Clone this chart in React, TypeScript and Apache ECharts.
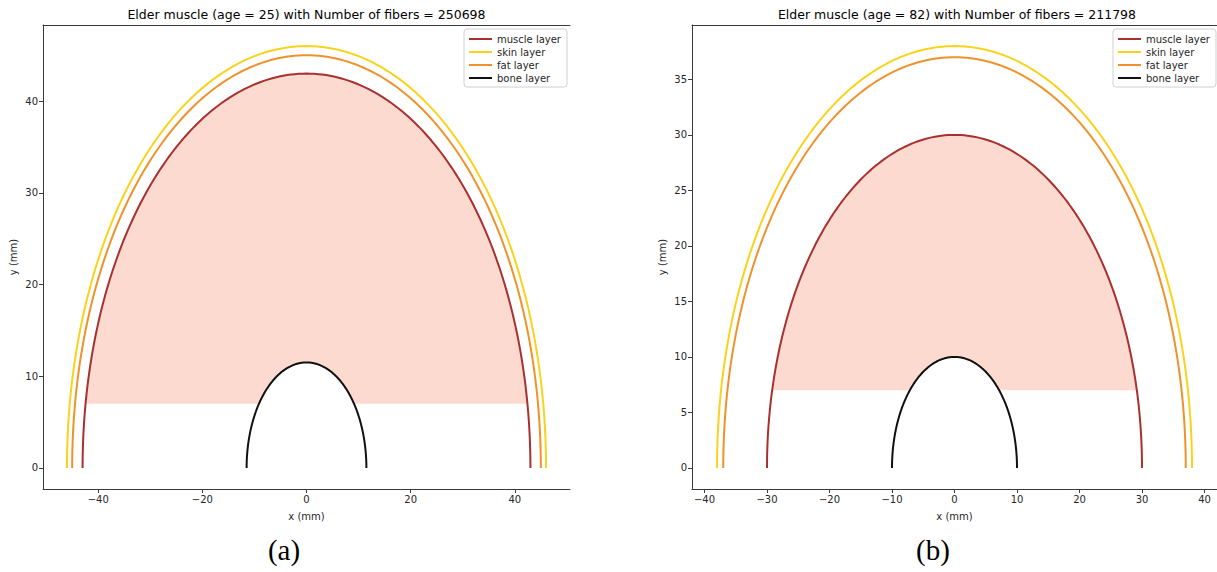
import React, { useEffect, useRef } from "react";
import * as echarts from "echarts";

// ---- data ----
const panelTags = ["(a)", "(b)"];
const ages = [25, 82];
const fiberCounts = [250698, 211798];
const layerNames = ["muscle layer", "skin layer", "fat layer", "bone layer"];
const layerColors = ["#a8312f", "#f9d31b", "#f0922c", "#111111"];
// semi-ellipse radii (mm) per panel, ordered like layerNames
const muscleRadius = [43, 30];
const skinRadius = [46, 38];
const fatRadius = [45, 37];
const boneRadius = [11.5, 10];
// lower edge of the muscle fiber cloud (mm)
const fiberFloor = [7, 7];
// axes
const xRanges = [[-50.6, 50.6], [-42, 42]];
const yRanges = [[-2.3, 48.3], [-1.9, 39.9]];
const xTicks = [[-40, -20, 0, 20, 40], [-40, -30, -20, -10, 0, 10, 20, 30, 40]];
const yTicks = [[0, 10, 20, 30, 40], [0, 5, 10, 15, 20, 25, 30, 35]];

const FONT = "DejaVu Sans";
const STEPS = 180;

function semi(r: number): number[][] {
  const pts: number[][] = [];
  for (let i = 0; i <= STEPS; i++) {
    const t = (Math.PI * i) / STEPS;
    pts.push([r * Math.cos(t), r * Math.sin(t)]);
  }
  return pts;
}

function fiberRegion(R: number, f: number, r: number): number[][] {
  const pts: number[][] = [];
  const t0 = Math.asin(f / R);
  for (let i = 0; i <= STEPS; i++) {
    const t = Math.PI - t0 - ((Math.PI - 2 * t0) * i) / STEPS;
    pts.push([R * Math.cos(t), R * Math.sin(t)]);
  }
  const t1 = Math.asin(Math.min(1, f / r));
  for (let i = 0; i <= STEPS; i++) {
    const t = t1 + ((Math.PI - 2 * t1) * i) / STEPS;
    pts.push([r * Math.cos(t), r * Math.sin(t)]);
  }
  return pts;
}

const grids = [
  { left: 43, top: 25, width: 527, height: 464 },
  { left: 692, top: 25, width: 530, height: 464 },
];
const legendLeft = [464, 1113];

export default function App() {
  const ref = useRef<HTMLDivElement>(null);
  useEffect(() => {
    if (!ref.current) return;
    const chart = echarts.init(ref.current, null, { renderer: "svg" });
    const axisColor = "#3a3a3a";
    const labelStyle = { color: "#262626", fontSize: 10, fontFamily: FONT };

    const xAxis: any[] = [];
    const yAxis: any[] = [];
    const series: any[] = [];
    const legend: any[] = [];
    const graphic: any[] = [];

    [0, 1].forEach((p) => {
      xAxis.push({
        type: "value",
        gridIndex: p,
        min: xRanges[p][0],
        max: xRanges[p][1],
        name: "x (mm)",
        nameLocation: "middle",
        nameGap: 22,
        nameTextStyle: { color: "#262626", fontSize: 10, fontFamily: FONT },
        axisLine: { onZero: false, lineStyle: { color: axisColor, width: 1 } },
        axisTick: { show: true, length: 4, customValues: xTicks[p], lineStyle: { color: axisColor } },
        axisLabel: { ...labelStyle, margin: 5, customValues: xTicks[p], formatter: (v: number) => (v < 0 ? "\u2212" + Math.abs(v) : String(v)) },
        splitLine: { show: false },
      });
      xAxis.push({
        type: "value",
        gridIndex: p,
        position: "top",
        min: xRanges[p][0],
        max: xRanges[p][1],
        axisLine: { onZero: false, lineStyle: { color: axisColor, width: 1 } },
        axisTick: { show: false },
        axisLabel: { show: false },
        splitLine: { show: false },
      });
      yAxis.push({
        type: "value",
        gridIndex: p,
        min: yRanges[p][0],
        max: yRanges[p][1],
        name: "y (mm)",
        nameLocation: "middle",
        nameGap: 25,
        nameTextStyle: { color: "#262626", fontSize: 10, fontFamily: FONT },
        axisLine: { onZero: false, lineStyle: { color: axisColor, width: 1 } },
        axisTick: { show: true, length: 4, customValues: yTicks[p], lineStyle: { color: axisColor } },
        axisLabel: { ...labelStyle, margin: 5, customValues: yTicks[p] },
        splitLine: { show: false },
      });

      const region = fiberRegion(muscleRadius[p], fiberFloor[p], boneRadius[p]);
      series.push({
        type: "custom",
        xAxisIndex: p * 2,
        yAxisIndex: p,
        silent: true,
        z: 1,
        data: [[0, fiberFloor[p]]],
        renderItem: (_params: any, api: any) => ({
          type: "polygon",
          shape: { points: region.map((pt) => api.coord(pt)) },
          style: { fill: "#fcdad0", stroke: "none" },
        }),
      });

      const radii = [muscleRadius[p], skinRadius[p], fatRadius[p], boneRadius[p]];
      radii.forEach((r, i) => {
        series.push({
          type: "line",
          name: layerNames[i],
          xAxisIndex: p * 2,
          yAxisIndex: p,
          data: semi(r),
          symbol: "none",
          z: 3,
          color: layerColors[i],
          itemStyle: { color: layerColors[i] },
          lineStyle: { color: layerColors[i], width: 2 },
        });
      });

      legend.push({
        data: layerNames,
        orient: "vertical",
        left: legendLeft[p],
        top: 29,
        icon: "rect",
        itemWidth: 23,
        itemHeight: 2,
        itemGap: 3,
        padding: [5, 6, 4, 5],
        backgroundColor: "#ffffff",
        borderColor: "#d0d0d0",
        borderWidth: 1,
        borderRadius: 3,
        selectedMode: false,
        textStyle: { color: "#262626", fontSize: 10, fontFamily: FONT, padding: [0, 0, 0, 0] },
      });

      const g = grids[p];
      graphic.push({
        type: "text",
        x: g.left + g.width / 2,
        y: 14,
        style: {
          text: `Elder muscle (age = ${ages[p]}) with Number of fibers = ${fiberCounts[p]}`,
          font: `12.5px "${FONT}"`,
          fill: "#000",
          textAlign: "center",
          textVerticalAlign: "middle",
        },
      });
      graphic.push({
        type: "text",
        x: p === 0 ? 284 : 933,
        y: 550,
        style: {
          text: panelTags[p],
          font: `29px "Liberation Serif"`,
          fill: "#000",
          textAlign: "center",
          textVerticalAlign: "middle",
        },
      });
    });

    chart.setOption({
      animation: false,
      backgroundColor: "#ffffff",
      grid: grids.map((g) => ({ ...g, containLabel: false })),
      xAxis,
      yAxis,
      legend,
      series,
      graphic,
    });
    return () => chart.dispose();
  }, []);
  return (
    <div
      ref={ref}
      style={{ position: "absolute", left: 0, top: 0, width: 1217, height: 572 }}
    />
  );
}
